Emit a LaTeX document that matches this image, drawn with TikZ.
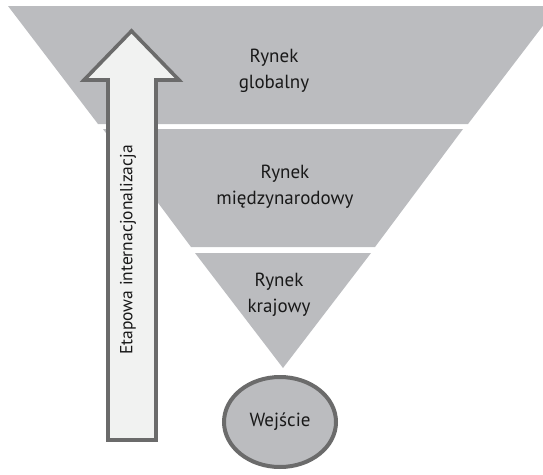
\documentclass[tikz,border=0pt]{standalone}
\usepackage{fontspec}
\setmainfont{PT Sans}
\usetikzlibrary{shapes.geometric}
\definecolor{bandgray}{RGB}{187,188,191}
\definecolor{edgegray}{RGB}{107,107,107}
\definecolor{arrowfill}{RGB}{241,242,241}
\begin{document}
\begin{tikzpicture}[x=1pt,y=-1pt,
  band/.style={fill=bandgray,draw=none},
  label/.style={align=center,font=\fontsize{19}{26}\selectfont,text=black!90},
  arrowbody/.style={fill=arrowfill,draw=edgegray,line width=3.6pt,line join=miter}]
\useasboundingbox (0,0) rectangle (543,474);
% funnel bands: centre x = 283, apex at y = 368, half-width = 0.76*(368-y)
\fill[band] (8,6) -- (558,6) -- (468,124) -- (98,124) -- cycle;
\fill[band] (103,129) -- (463,129) -- (375,247) -- (191,247) -- cycle;
\fill[band] (195,253) -- (371,253) -- (283,368) -- cycle;
\node[label] (global) at (274,71) {Rynek\\globalny};
\node[label] (inter) at (285,187) {Rynek\\międzynarodowy};
\node[label] (dom) at (279,295) {Rynek\\krajowy};
% entry point
\node[ellipse,fill=bandgray,draw=edgegray,line width=4pt,minimum width=112pt,minimum height=90pt,inner sep=0pt,label] (entry) at (280,422) {Wejście};
% upward arrow of stepwise internationalisation
\draw[arrowbody] (131.5,31) -- (179,80) -- (156,80) -- (156,440) -- (108,440) -- (108,80) -- (84,80) -- cycle;
\node[label,font=\fontsize{17.5}{22}\selectfont,rotate=90] (steps) at (128,250) {Etapowa internacjonalizacja};
\end{tikzpicture}
\end{document}
